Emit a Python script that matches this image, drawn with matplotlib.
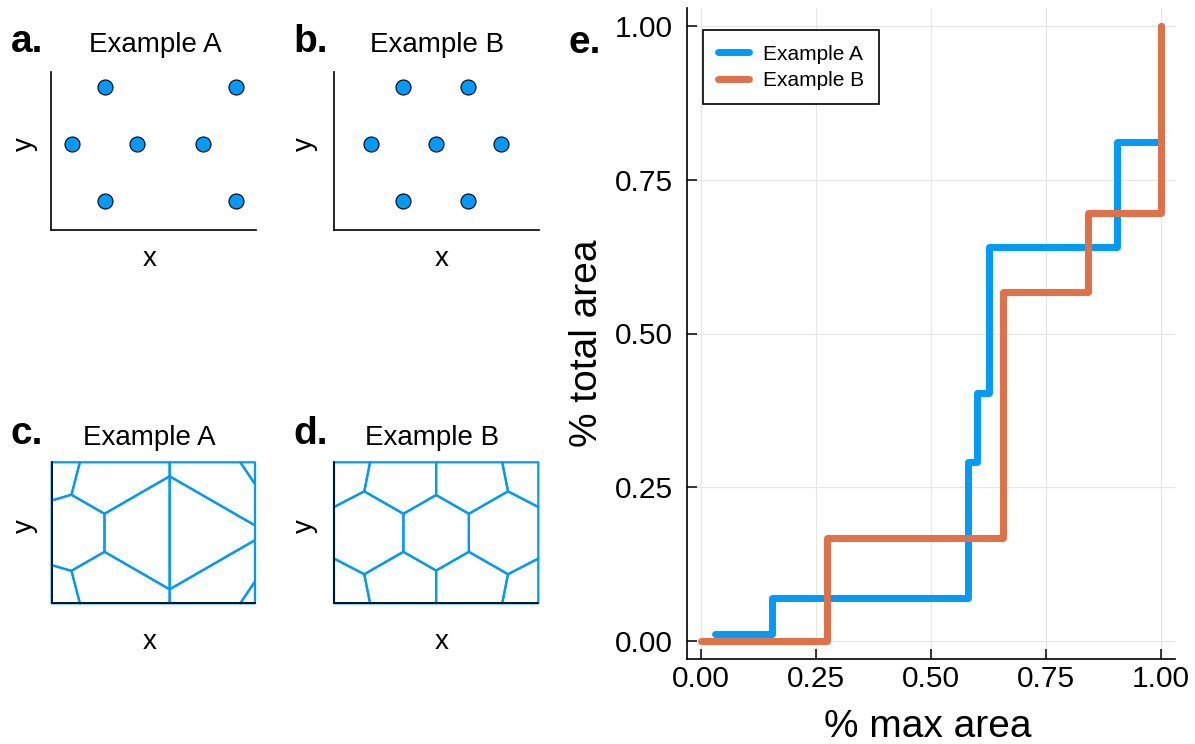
import numpy as np
import matplotlib
matplotlib.use("Agg")
import matplotlib.pyplot as plt
from matplotlib.patches import Polygon

plt.rcParams["font.family"] = ["Liberation Sans", "DejaVu Sans"]

FIG_W, FIG_H = 1195, 744
BLUE = "#009AFA"
ORANGE = "#E36F47"

# ---- seed points of the two examples (domain units) ----
domain_w, domain_h = 3.12, 2.16
a_x = [0.31, 0.81, 0.81, 1.31, 2.31, 2.81, 2.81]
a_y = [1.08, 1.95, 0.21, 1.08, 1.08, 1.95, 0.21]
b_x = [0.56, 1.06, 1.06, 1.56, 2.06, 2.06, 2.56]
b_y = [1.08, 1.95, 0.21, 1.08, 1.95, 0.21, 1.08]

# ---- cumulative area curves ----
cum_a_x = [0.03, 0.155, 0.58, 0.601, 0.626, 0.903, 1.0]
cum_a_y = [0.011, 0.069, 0.29, 0.403, 0.641, 0.811, 1.0]
cum_b_x = [0.0, 0.275, 0.656, 0.842, 1.0]
cum_b_y = [0.0, 0.167, 0.568, 0.696, 1.0]

ticks = [0.0, 0.25, 0.5, 0.75, 1.0]
tick_labels = ["0.00", "0.25", "0.50", "0.75", "1.00"]
series_names = ["Example A", "Example B"]


def fig_xy(x, y):
    return x / FIG_W, 1 - y / FIG_H


def axes_box(fig, left, top, right, bottom):
    return fig.add_axes([left / FIG_W, 1 - bottom / FIG_H,
                         (right - left) / FIG_W, (bottom - top) / FIG_H])


def clip(poly, p, q):
    """Keep the part of poly that is closer to p than to q."""
    n = q - p
    m = (p + q) / 2
    out = []
    k = len(poly)
    for i in range(k):
        c, d = poly[i], poly[(i + 1) % k]
        fc, fd = np.dot(c - m, n), np.dot(d - m, n)
        if fc <= 0:
            out.append(c)
        if fc * fd < 0:
            t = fc / (fc - fd)
            out.append(c + t * (d - c))
    return out


def voronoi_cells(xs, ys, w, h):
    gens = [np.array([x, y]) for x, y in zip(xs, ys)]
    gens += [np.array(c, float) for c in [(0, 0), (w, 0), (0, h), (w, h)]]
    box = [np.array(c, float) for c in [(0, 0), (w, 0), (w, h), (0, h)]]
    cells = []
    for i, g in enumerate(gens):
        poly = box
        for j, o in enumerate(gens):
            if i != j and len(poly):
                poly = clip(poly, g, o)
        if len(poly) >= 3:
            cells.append(np.array(poly))
    return cells


def style_small(ax):
    for s in ["top", "right"]:
        ax.spines[s].set_visible(False)
    for s in ["left", "bottom"]:
        ax.spines[s].set_linewidth(1.2)
        ax.spines[s].set_color("black")
        ax.spines[s].set_zorder(5)
    ax.set_xticks([])
    ax.set_yticks([])


def small_labels(fig, ax, title, title_pad, title_x, xlab_pos, ylab_pos):
    ax.set_title(title, fontsize=20, pad=title_pad)
    ax.title.set_x(title_x)
    ax.set_xlabel("x", fontsize=20, va="baseline")
    ax.xaxis.set_label_coords(*fig_xy(*xlab_pos), transform=fig.transFigure)
    ax.set_ylabel("y", fontsize=20, va="baseline")
    ax.yaxis.set_label_coords(*fig_xy(*ylab_pos), transform=fig.transFigure)


fig = plt.figure(figsize=(FIG_W / 100, FIG_H / 100), dpi=100)

# ---- a, b: seed points ----
ax_a = axes_box(fig, 51, 72, 256, 230)
ax_b = axes_box(fig, 334, 72, 539, 230)
for ax, xs, ys, xlim in [(ax_a, a_x, a_y, (-0.01, 3.12)),
                         (ax_b, b_x, b_y, (0.0, 3.14))]:
    ax.plot(xs, ys, "o", ms=10.8, mfc=BLUE, mec="black", mew=0.8, ls="none")
    ax.set_xlim(*xlim)
    ax.set_ylim(-0.235, 2.18)
    style_small(ax)
small_labels(fig, ax_a, "Example A", 14.6, 0.51, (150, 266.5), (32, 144))
small_labels(fig, ax_b, "Example B", 14.6, 0.505, (442, 266.5), (312, 144))

# ---- c, d: Voronoi tessellations ----
ax_c = axes_box(fig, 51.7, 462.3, 255, 603.3)
ax_d = axes_box(fig, 334, 462.3, 538.3, 603.3)
for ax, xs, ys in [(ax_c, a_x, a_y), (ax_d, b_x, b_y)]:
    for cell in voronoi_cells(xs, ys, domain_w, domain_h):
        ax.add_patch(Polygon(cell, closed=True, fill=False, ec=BLUE,
                             lw=1.6, clip_on=False, joinstyle="round"))
    ax.set_xlim(0, domain_w)
    ax.set_ylim(0, domain_h)
    style_small(ax)
small_labels(fig, ax_c, "Example A", 12.5, 0.48, (150, 649), (32, 526))
small_labels(fig, ax_d, "Example B", 12.5, 0.48, (442, 649), (312, 526))

# ---- e: cumulative area ----
ax_e = axes_box(fig, 687, 8, 1175, 659)
ax_e.plot(cum_a_x, cum_a_y, drawstyle="steps-post", color=BLUE, lw=5,
          solid_capstyle="round", solid_joinstyle="round", label=series_names[0])
ax_e.plot(cum_b_x, cum_b_y, drawstyle="steps-post", color=ORANGE, lw=5,
          solid_capstyle="round", solid_joinstyle="round", label=series_names[1])
ax_e.set_xlim(-0.03, 1.03)
ax_e.set_ylim(-0.03, 1.03)
ax_e.set_xticks(ticks, tick_labels)
ax_e.set_yticks(ticks, tick_labels)
ax_e.grid(True, color="#e6e6e6", lw=0.8)
ax_e.set_axisbelow(True)
for s in ["top", "right"]:
    ax_e.spines[s].set_visible(False)
for s in ["left", "bottom"]:
    ax_e.spines[s].set_linewidth(1.2)
ax_e.tick_params(direction="in", length=7, width=1.1, labelsize=21.5)
ax_e.tick_params(axis="y", pad=10)
ax_e.tick_params(axis="x", pad=4)
ax_e.set_xlabel("% max area", fontsize=28, va="baseline")
ax_e.xaxis.set_label_coords(*fig_xy(928, 737), transform=fig.transFigure)
ax_e.set_ylabel("% total area", fontsize=28, va="baseline")
ax_e.yaxis.set_label_coords(*fig_xy(597, 343), transform=fig.transFigure)
leg = ax_e.legend(loc="upper left", bbox_to_anchor=fig_xy(703, 30),
                  bbox_transform=fig.transFigure, borderaxespad=0,
                  fontsize=15, frameon=True, fancybox=False,
                  edgecolor="black", framealpha=1, borderpad=0.7,
                  labelspacing=0.35, handlelength=1.5, handletextpad=0.7)
leg.get_frame().set_linewidth(1.2)

# ---- panel letters ----
for letter, (x, y) in zip("abcde", [(11, 51.7), (293, 51.7), (11, 443.5),
                                    (293, 444), (569, 53)]):
    fig.text(*fig_xy(x, y), letter + ".", fontsize=28, fontweight="bold",
             ha="left", va="baseline")

fig.savefig("out.png", dpi=100)
